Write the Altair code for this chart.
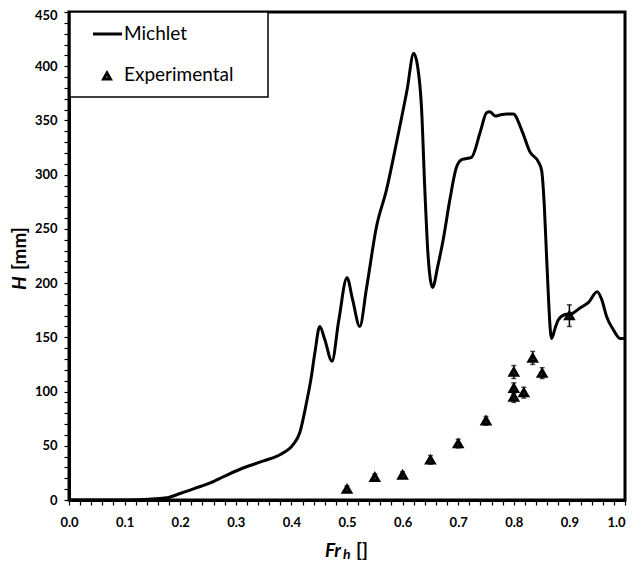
import altair as alt
import pandas as pd

# Michlet curve
fr_curve = [0.0, 0.10, 0.15, 0.176, 0.20, 0.225, 0.254, 0.28, 0.313, 0.35, 0.38, 0.403, 0.415,
            0.428, 0.435, 0.442, 0.451, 0.46, 0.473, 0.485, 0.50, 0.51, 0.523, 0.535, 0.553,
            0.571, 0.59, 0.608, 0.62, 0.627, 0.634, 0.64, 0.646, 0.654, 0.663, 0.673, 0.685,
            0.697, 0.707, 0.724, 0.74, 0.751, 0.757, 0.767, 0.775, 0.788, 0.799, 0.815, 0.829,
            0.844, 0.85, 0.855, 0.859, 0.868, 0.874, 0.88, 0.892, 0.905, 0.919, 0.934, 0.95,
            0.958, 0.967, 0.979, 0.991, 1.0]
h_curve = [0.0, 0.0, 1.0, 2.0, 6.0, 10.5, 15.7, 22.0, 29.5, 36.0, 42.0, 51.0, 62.0,
           92.0, 111.0, 135.0, 160.0, 148.0, 128.0, 165.0, 205.0, 185.0, 160.0, 195.0, 252.0,
           286.0, 332.0, 378.0, 412.0, 400.0, 362.0, 286.0, 224.0, 196.0, 215.0, 240.0, 277.0,
           307.0, 314.0, 316.0, 340.0, 357.0, 358.0, 354.0, 355.0, 356.0, 356.0, 340.0, 321.0,
           312.0, 304.0, 270.0, 224.0, 149.0, 158.0, 166.0, 171.0, 172.0, 177.0, 182.0, 192.0,
           185.0, 169.0, 157.0, 149.0, 149.0]

# Experimental points
fr_exp = [0.50, 0.55, 0.60, 0.65, 0.70, 0.75, 0.80, 0.80, 0.80, 0.818, 0.834, 0.851, 0.90]
h_exp = [10.0, 21.0, 23.0, 37.0, 52.0, 73.0, 118.0, 103.0, 95.0, 99.0, 131.0, 117.0, 170.0]
err_exp = [3.0, 3.0, 3.0, 4.0, 4.0, 4.0, 6.0, 5.0, 5.0, 5.0, 6.0, 5.0, 10.0]

x_ticks = [round(i * 0.02, 2) for i in range(51)]
y_ticks = list(range(0, 451, 10))

line_df = pd.DataFrame({"Fr": fr_curve, "H": h_curve})
exp_df = pd.DataFrame({"Fr": fr_exp, "H": h_exp,
                       "lo": [h - e for h, e in zip(h_exp, err_exp)],
                       "hi": [h + e for h, e in zip(h_exp, err_exp)]})

FONT = "Lato"
xscale = alt.Scale(domain=[0, 1], nice=False, zero=False)
yscale = alt.Scale(domain=[0, 450], nice=False)

major_x = "abs(datum.value*10 - round(datum.value*10)) < 0.001"
major_y = "datum.value % 50 == 0"

xaxis = alt.Axis(values=x_ticks, title=None, grid=False, labelOverlap=False,
                 labelExpr=f"{major_x} ? format(datum.value, '.1f') : ''",
                 labelOffset={"condition": {"test": "datum.value > 0.99", "value": -9}, "value": 0},
                 ticks=True, tickSize=5, tickColor="black", tickWidth=1.2,
                 domainColor="black", domainWidth=3, labelBound=False, labelFlush=False,
                 labelFont=FONT, labelFontWeight="bold", labelFontSize=13,
                 labelColor="black", labelPadding=11)
yaxis = alt.Axis(values=y_ticks, title=None, grid=False, labelOverlap=False,
                 labelExpr=f"{major_y} ? format(datum.value, 'd') : ''",
                 labelOffset={"condition": {"test": "datum.value > 449", "value": 3}, "value": 0},
                 ticks=True, tickSize=5, tickColor="black", tickWidth=1.2,
                 domainColor="black", domainWidth=3, labelBound=False, labelFlush=False,
                 labelFont=FONT, labelFontWeight="bold", labelFontSize=13,
                 labelColor="black", labelPadding=7)

X = alt.X("Fr:Q", scale=xscale, axis=xaxis)

line = alt.Chart(line_df).mark_line(color="black", strokeWidth=3, interpolate="monotone").encode(
    x=X,
    y=alt.Y("H:Q", scale=yscale, axis=yaxis),
)

errs = alt.Chart(exp_df).mark_errorbar(color="black", ticks=True, thickness=1.5).encode(
    x=X,
    y=alt.Y("lo:Q", scale=yscale, axis=yaxis),
    y2="hi:Q",
)

pts = alt.Chart(exp_df).mark_point(shape="triangle-up", filled=False, color="black",
                                   strokeWidth=3, size=55, opacity=1).encode(
    x=X,
    y=alt.Y("H:Q", scale=yscale, axis=yaxis),
)

one = alt.Data(values=[{"a": 1}])

legend_box = alt.Chart(one).mark_rect(fill="white", stroke="black", strokeWidth=1.5).encode(
    x=alt.value(1), x2=alt.value(199), y=alt.value(0), y2=alt.value(85))
legend_line = alt.Chart(one).mark_rule(color="black", strokeWidth=3).encode(
    x=alt.value(24), x2=alt.value(53), y=alt.value(22))
legend_tri = alt.Chart(one).mark_point(shape="triangle-up", filled=False, color="black",
                                       strokeWidth=3, size=45, opacity=1).encode(
    x=alt.value(38), y=alt.value(64))
legend_t1 = alt.Chart(one).mark_text(text="Michlet", font=FONT, fontSize=19, align="left",
                                     baseline="middle", color="black").encode(
    x=alt.value(55), y=alt.value(22))
legend_t2 = alt.Chart(one).mark_text(text="Experimental", font=FONT, fontSize=19, align="left",
                                     baseline="middle", color="black").encode(
    x=alt.value(55), y=alt.value(63))

# axis titles
yt1 = alt.Chart(one).mark_text(text="H", font=FONT, fontSize=19, fontWeight="bold",
                               fontStyle="italic", angle=270, align="left",
                               baseline="middle", color="black").encode(
    x=alt.value(-49), y=alt.value(278))
yt2 = alt.Chart(one).mark_text(text="[mm]", font=FONT, fontSize=19, fontWeight="bold",
                               angle=270, align="left", baseline="middle", color="black").encode(
    x=alt.value(-49), y=alt.value(258))
xt1 = alt.Chart(one).mark_text(text="Fr", font=FONT, fontSize=19, fontWeight="bold",
                               fontStyle="italic", align="left", baseline="middle",
                               color="black").encode(x=alt.value(256), y=alt.value(539))
xt2 = alt.Chart(one).mark_text(text="h", font=FONT, fontSize=14, fontWeight="bold",
                               fontStyle="italic", align="left", baseline="middle",
                               color="black").encode(x=alt.value(274), y=alt.value(543))
xt3 = alt.Chart(one).mark_text(text="[]", font=FONT, fontSize=19, fontWeight="bold",
                               align="left", baseline="middle",
                               color="black").encode(x=alt.value(287), y=alt.value(539))

chart = alt.layer(line, errs, pts, legend_box, legend_line, legend_tri, legend_t1, legend_t2,
                  yt1, yt2, xt1, xt2, xt3).properties(
    width=556, height=488,
    autosize=alt.AutoSizeParams(type="none"),
    padding={"left": 61, "top": 4, "right": 2, "bottom": 63},
    background="white",
).configure_view(stroke="black", strokeWidth=3).configure_axis(labelOverlap=False)

chart.save("out.html", embed_options={"renderer": "svg", "actions": False})
